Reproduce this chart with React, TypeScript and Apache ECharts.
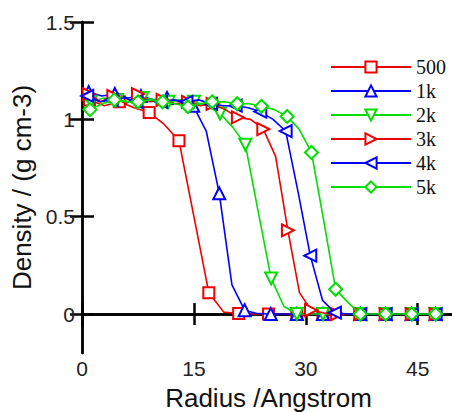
import React, { useEffect, useRef } from "react";
import * as echarts from "echarts";

const seriesNames = ["500", "1k", "2k", "3k", "4k", "5k"];
const seriesColors = ["#ee0000", "#0000ff", "#00dd00", "#ee0000", "#0000ff", "#00dd00"];
const seriesSymbols = ["emptyRect", "emptyTriangle", "emptyTriangle", "emptyTriangle", "emptyTriangle", "emptyDiamond"];
const seriesRotations = [0, 0, 180, -90, 90, 0];
const seriesSymbolSizes = [11, 12, 12, 12, 12, 13];

// Radius values (Angstrom) and densities; odd indices carry a marker
const x500 = [0.2, 1, 3, 5, 7, 9, 11, 13, 15, 17, 19, 21, 23, 25, 27, 28.8, 30.5, 32.3, 34.8, 37.3, 39, 40.7, 42.5, 44.2, 45.8, 47.4];
const y500 = [1.08, 1.1, 1.07, 1.09, 1.06, 1.035, 0.975, 0.89, 0.5, 0.11, 0.01, 0.003, 0, 0, 0, 0, 0, 0, 0, 0, 0, 0, 0, 0, 0, 0];

const x1k = [0.2, 0.9, 2.65, 4.4, 6.15, 7.9, 9.65, 11.4, 13.15, 14.9, 16.65, 18.4, 20.1, 21.8, 23.55, 25.3, 27.05, 28.8, 30.5, 32.3, 34.8, 37.3, 39, 40.7, 42.5, 44.2, 45.8, 47.4];
const y1k = [1.12, 1.14, 1.12, 1.13, 1.11, 1.12, 1.1, 1.11, 1.09, 1.07, 0.94, 0.62, 0.15, 0.02, 0.002, 0, 0, 0, 0, 0, 0, 0, 0, 0, 0, 0, 0, 0];

const x2k = [0.2, 1.2, 2.95, 4.7, 6.4, 8.1, 9.85, 11.6, 13.3, 15.0, 16.75, 18.5, 20.2, 21.9, 23.6, 25.35, 27.05, 28.8, 30.5, 32.3, 34.8, 37.3, 39, 40.7, 42.5, 44.2, 45.8, 47.4];
const y2k = [1.1, 1.09, 1.11, 1.1, 1.09, 1.11, 1.1, 1.09, 1.1, 1.09, 1.07, 1.03, 0.96, 0.87, 0.53, 0.183, 0.04, 0, 0, 0, 0, 0, 0, 0, 0, 0, 0, 0];

const x3k = [0.2, 0.9, 2.55, 4.2, 5.85, 7.5, 9.15, 10.8, 12.5, 14.2, 15.85, 17.5, 19.2, 20.9, 22.6, 24.3, 25.95, 27.6, 29.15, 30.7, 32.45, 34.2, 35.75, 37.3, 39, 40.7, 42.5, 44.2, 45.8, 47.4];
const y3k = [1.1, 1.13, 1.09, 1.12, 1.08, 1.13, 1.09, 1.1, 1.08, 1.09, 1.07, 1.08, 1.05, 1.01, 1.0, 0.95, 0.81, 0.43, 0.11, 0.02, 0.005, 0, 0, 0, 0, 0, 0, 0, 0, 0];

const x4k = [0.2, 0.7, 2.35, 4.0, 5.65, 7.3, 8.95, 10.6, 12.3, 14.0, 15.65, 17.3, 18.95, 20.6, 22.25, 23.9, 25.6, 27.3, 28.95, 30.6, 32.25, 33.9, 35.6, 37.3, 39, 40.7, 42.5, 44.2, 45.8, 47.4];
const y4k = [1.11, 1.12, 1.09, 1.1, 1.11, 1.09, 1.1, 1.09, 1.1, 1.09, 1.1, 1.08, 1.07, 1.07, 1.06, 1.04, 1.0, 0.94, 0.63, 0.3, 0.07, 0.007, 0, 0, 0, 0, 0, 0, 0, 0];

const x5k = [0.2, 1.07, 2.7, 4.33, 5.9, 7.5, 9.15, 10.8, 12.5, 14.2, 15.8, 17.45, 19.1, 20.8, 22.4, 24.06, 25.8, 27.5, 29.1, 30.76, 32.4, 34.0, 35.65, 37.3, 39, 40.7, 42.5, 44.2, 45.8, 47.4];
const y5k = [1.06, 1.05, 1.08, 1.1, 1.09, 1.09, 1.1, 1.09, 1.08, 1.065, 1.08, 1.09, 1.09, 1.08, 1.08, 1.067, 1.05, 1.015, 0.95, 0.83, 0.48, 0.127, 0.06, 0, 0, 0, 0, 0, 0, 0];

const allX = [x500, x1k, x2k, x3k, x4k, x5k];
const allY = [y500, y1k, y2k, y3k, y4k, y5k];

const xTicks = [0, 15, 30, 45];
const yTicks = [0, 0.5, 1, 1.5];

export default function App() {
  const ref = useRef<HTMLDivElement>(null);
  useEffect(() => {
    if (!ref.current) return;
    const chart = echarts.init(ref.current, null, { renderer: "svg" });
    const axisLine = { show: true, lineStyle: { color: "#000", width: 2.5 } };
    const tickStyle = { color: "#000", width: 2.5 };
    const labelFont = { fontFamily: "Liberation Sans, Arial, sans-serif", fontSize: 21, color: "#222" };
    const series = seriesNames.map((name, i) => ({
      name,
      type: "line",
      xAxisIndex: 0,
      yAxisIndex: 0,
      symbol: seriesSymbols[i],
      symbolSize: seriesSymbolSizes[i],
      symbolRotate: seriesRotations[i],
      showAllSymbol: true,
      color: seriesColors[i],
      lineStyle: { color: seriesColors[i], width: 1.6 },
      itemStyle: { color: seriesColors[i], borderWidth: 1.6 },
      emphasis: { disabled: true },
      z: 2 + i,
      data: allX[i].map((x, j) =>
        j % 2 === 1 ? { value: [x, allY[i][j]] } : { value: [x, allY[i][j]], symbol: "none" }
      ),
    }));
    chart.setOption({
      animation: false,
      backgroundColor: "#fff",
      grid: { left: 82, top: 22, right: -3, bottom: 59, containLabel: false, outerBoundsMode: "none" },
      legend: {
        orient: "vertical",
        left: 325,
        top: 52,
        itemWidth: 80,
        itemHeight: 14,
        itemGap: 4,
        selectedMode: false,
        data: seriesNames,
        textStyle: { fontFamily: "Liberation Serif, Times New Roman, serif", fontSize: 20, lineHeight: 20, color: "#111" },
      },
      xAxis: [
        {
          type: "value",
          min: 0,
          max: 50,
          position: "bottom",
          name: "Radius /Angstrom",
          nameLocation: "middle",
          nameGap: 32,
          nameTextStyle: { fontFamily: "Liberation Sans, Arial, sans-serif", fontSize: 26, color: "#111" },
          axisLine,
          axisTick: { show: true, inside: true, length: 11, lineStyle: tickStyle, customValues: xTicks },
          axisLabel: { ...labelFont, margin: 5, customValues: xTicks },
          splitLine: { show: false },
        },
        {
          type: "value",
          min: 0,
          max: 50,
          position: "top",
          axisLine,
          axisTick: { show: true, inside: true, length: 11, lineStyle: tickStyle, customValues: xTicks },
          axisLabel: { show: false },
          splitLine: { show: false },
        },
      ],
      yAxis: [
        {
          type: "value",
          min: -0.2,
          max: 1.5,
          position: "left",
          name: "Density / (g cm-3)",
          nameLocation: "middle",
          nameGap: 38,
          nameTextStyle: { fontFamily: "Liberation Sans, Arial, sans-serif", fontSize: 26, color: "#111" },
          axisLine,
          axisTick: { show: true, inside: true, length: 12, lineStyle: tickStyle, customValues: yTicks },
          axisLabel: { ...labelFont, margin: 7, customValues: yTicks },
          splitLine: { show: false },
        },
        {
          type: "value",
          min: -0.2,
          max: 1.5,
          position: "right",
          axisLine,
          axisTick: { show: true, inside: true, length: 12, lineStyle: tickStyle, customValues: yTicks },
          axisLabel: { show: false },
          splitLine: { show: false },
        },
      ],
      series,
    });
    return () => chart.dispose();
  }, []);
  return <div ref={ref} style={{ width: 452, height: 412, position: "fixed", left: 0, top: 0 }} />;
}
